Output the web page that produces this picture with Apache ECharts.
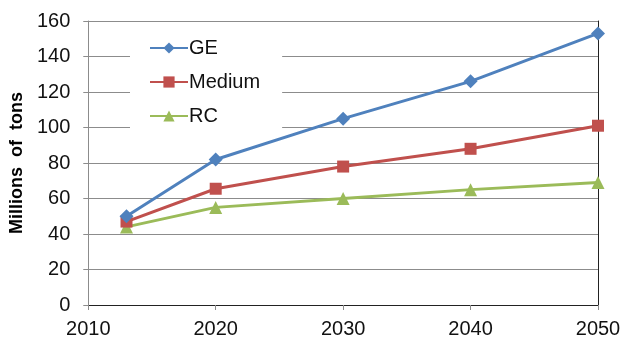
<!DOCTYPE html>
<html>
<head>
<meta charset="utf-8">
<script src="https://cdn.jsdelivr.net/npm/echarts@6/dist/echarts.min.js"></script>
<style>
  html, body { margin: 0; padding: 0; background: #fff; }
  #chart { width: 626px; height: 342px; }
</style>
</head>
<body>
<div id="chart"></div>
<script>
// Projected tonnage by scenario
const years = [2013, 2020, 2030, 2040, 2050];
const geValues = [50, 82, 105, 126, 153];
const mediumValues = [47, 65.5, 78, 88, 101];
const rcValues = [44, 55, 60, 65, 69];

const FONT = '"Liberation Sans", Arial, sans-serif';

function pairs(xs, ys) {
  return xs.map((x, i) => [x, ys[i]]);
}

const chart = echarts.init(document.getElementById('chart'));

chart.setOption({
  animation: false,
  backgroundColor: '#fff',
  grid: { left: 86, right: 28, top: 21, bottom: 37 },
  legend: {
    orient: 'vertical',
    left: 130,
    top: 28,
    itemWidth: 38,
    itemHeight: 14,
    itemGap: 14,
    backgroundColor: '#fff',
    padding: [10, 22, 6, 19],
    textStyle: { fontFamily: FONT, fontSize: 20, color: '#111', padding: [0, 0, 0, -4] },
    data: ['GE', 'Medium', 'RC']
  },
  xAxis: [
    {
      type: 'value', min: 2010, max: 2050, interval: 10,
      axisLine: { show: true, lineStyle: { color: '#8c8c8c', width: 1 } },
      axisTick: { show: true, length: 5, lineStyle: { color: '#8c8c8c' } },
      axisLabel: { fontFamily: FONT, fontSize: 20, color: '#111', margin: 14, formatter: v => String(v) },
      splitLine: { show: false }
    },
    {
      type: 'value', min: 2010, max: 2050, position: 'top',
      axisLine: { show: true, lineStyle: { color: '#222', width: 1 } },
      axisTick: { show: false }, axisLabel: { show: false }, splitLine: { show: false }
    }
  ],
  yAxis: [
    {
      type: 'value', min: 0, max: 160, interval: 20,
      name: 'Millions  of  tons',
      nameLocation: 'middle',
      nameGap: 60,
      nameTextStyle: { fontFamily: FONT, fontSize: 18, fontWeight: 'bold', color: '#000' },
      axisLine: { show: true, lineStyle: { color: '#8c8c8c', width: 1 } },
      axisTick: { show: true, length: 5, lineStyle: { color: '#8c8c8c' } },
      axisLabel: { fontFamily: FONT, fontSize: 20, color: '#111', margin: 18 },
      splitLine: { show: true, lineStyle: { color: '#8c8c8c', width: 1 } }
    },
    {
      type: 'value', min: 0, max: 160, position: 'right',
      axisLine: { show: true, lineStyle: { color: '#222', width: 1 } },
      axisTick: { show: false }, axisLabel: { show: false }, splitLine: { show: false }
    }
  ],
  series: [
    {
      name: 'GE', type: 'line', data: pairs(years, geValues),
      symbol: 'diamond', symbolSize: 14,
      lineStyle: { color: '#4f81bd', width: 3 },
      itemStyle: { color: '#4f81bd' },
      z: 4
    },
    {
      name: 'Medium', type: 'line', data: pairs(years, mediumValues),
      symbol: 'rect', symbolSize: 12,
      lineStyle: { color: '#c0504d', width: 3 },
      itemStyle: { color: '#c0504d' },
      z: 3
    },
    {
      name: 'RC', type: 'line', data: pairs(years, rcValues),
      symbol: 'triangle', symbolSize: 13,
      lineStyle: { color: '#9bbb59', width: 3 },
      itemStyle: { color: '#9bbb59' },
      z: 2
    }
  ]
});
</script>
</body>
</html>
